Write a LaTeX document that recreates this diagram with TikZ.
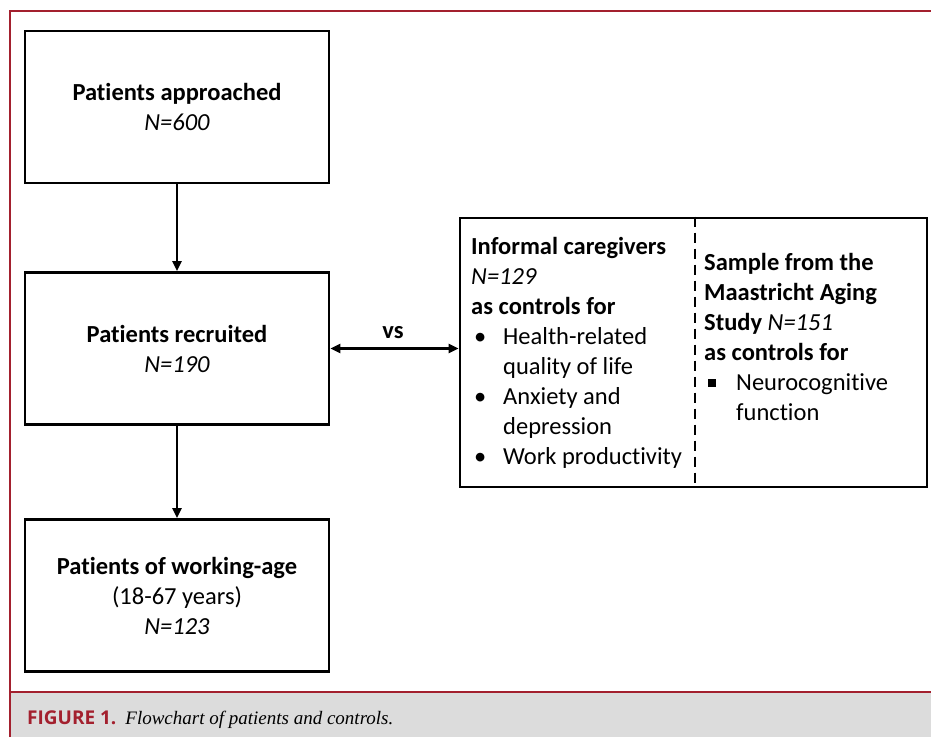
\documentclass[tikz,border=0pt]{standalone}
\usepackage{fontspec}
\setmainfont[RawFeature=-liga]{Carlito}
\newfontfamily\capfont{Liberation Serif}
\newfontfamily\figfont{Open Sans}
\usetikzlibrary{arrows.meta}
\definecolor{figred}{HTML}{A3202E}
\definecolor{capgray}{HTML}{DCDCDC}
\newcommand{\itemdot}{\makebox[32pt][l]{\hspace{3pt}•}}
\newcommand{\itemsq}{\makebox[32pt][l]{\hspace{4pt}\rule[3pt]{8pt}{8pt}}}

\begin{document}
\begin{tikzpicture}[x=1pt,y=-1pt,
    box/.style={draw,line width=2.8pt,minimum width=304pt,minimum height=152pt,
      align=center,inner sep=0pt,font=\fontsize{24.5}{30}\selectfont},
    txt/.style={inner sep=0pt,align=left,anchor=north west,font=\fontsize{24.5}{30}\selectfont},
    link/.style={line width=2.3pt,-{Triangle[length=10pt,width=9pt]}},
    dlink/.style={line width=2.3pt,{Triangle[length=10pt,width=9pt]}-{Triangle[length=10pt,width=9pt]}}]
  \useasboundingbox (0,0) rectangle (931,737);

  % Frame and caption bar
  \fill[capgray] (10,692) rectangle (931,737);
  \draw[figred,line width=2pt] (10,692) -- (931,692);
  \draw[figred,line width=2.8pt] (10,737) -- (10,11) -- (931,11);
  \node[anchor=base west,inner sep=0pt] (caption) at (27,724)
    {{\figfont\bfseries\fontsize{19}{22}\selectfont\color{figred}FIGURE 1.}\hspace{9pt}%
     {\capfont\itshape\fontsize{19}{22}\selectfont Flowchart of patients and controls.}};

  % Patient boxes
  \node[box] (approached) at (177,107) {\textbf{Patients approached}\\\textit{N=600}};
  \node[box] (recruited) at (177,348.5) {\textbf{Patients recruited}\\\textit{N=190}};
  \node[box] (working) at (177,595.5) {\textbf{Patients of working-age}\\(18-67 years)\\\textit{N=123}};

  % Control box, split in two
  \node[draw,line width=2.8pt,minimum width=467pt,minimum height=269pt,inner sep=0pt]
    (controls) at (693.5,352.5) {};
  \coordinate (split) at (695,352);
  \draw[line width=2pt,dash pattern=on 10pt off 6pt] (split |- controls.north) -- (split |- controls.south);
  \node[txt] (carers) at (471,237) {\textbf{Informal caregivers}\\\textit{N=129}\\\textbf{as controls for}\\
    \itemdot Health-related\\\hspace*{32pt}quality of life\\
    \itemdot Anxiety and\\\hspace*{32pt}depression\\
    \itemdot Work productivity};
  \node[txt] (aging) at (704,253) {\textbf{Sample from the}\\\textbf{Maastricht Aging}\\
    \textbf{Study} \textit{N=151}\\\textbf{as controls for}\\
    \itemsq Neurocognitive\\\hspace*{32pt}function};

  % Arrows
  \draw[link] (approached) -- (recruited);
  \draw[link] (recruited) -- (working);
  \draw[dlink] (recruited.east) -- (recruited.east -| controls.west);
  \node[font=\bfseries\fontsize{24.5}{28}\selectfont] (vs) at (393,333) {vs};
\end{tikzpicture}
\end{document}
